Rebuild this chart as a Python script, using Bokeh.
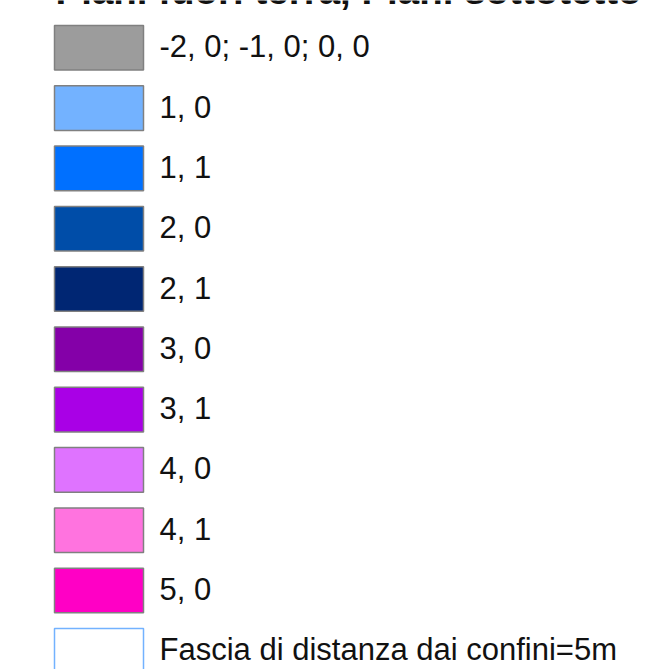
from bokeh.plotting import figure
from bokeh.models import ColumnDataSource, Range1d
from bokeh.core.properties import value
from bokeh.embed import file_html
from bokeh.resources import INLINE

title = "Piani fuori terra, Piani sottotetto"
labels = ["-2, 0; -1, 0; 0, 0", "1, 0", "1, 1", "2, 0", "2, 1",
          "3, 0", "3, 1", "4, 0", "4, 1", "5, 0",
          "Fascia di distanza dai confini=5m"]
fill_colors = ["#9c9c9c", "#73b2ff", "#0070ff", "#004da8", "#002673",
               "#8400a8", "#a900e6", "#df73ff", "#ff73df", "#ff00c5",
               "#ffffff"]
line_colors = ["#808080"] * 10 + ["#73b2ff"]
rows = list(range(len(labels)))

src = ColumnDataSource(dict(row=rows, label=labels, fill=fill_colors, line=line_colors))

# row pitch 60.3 px, first row centre at 47.3 px from top
p = figure(width=658, height=669, output_backend="svg", toolbar_location=None,
           x_range=Range1d(0, 658), y_range=Range1d((669 - 47.3) / 60.3, (0 - 47.3) / 60.3),
           min_border=0)
p.xaxis.visible = False
p.yaxis.visible = False
p.grid.visible = False
p.outline_line_color = None
p.background_fill_color = "white"
p.border_fill_color = "white"

p.rect(x=98.5, y="row", width=89, height=0.74, source=src,
       fill_color="fill", line_color="line", line_width=1.5)

p.text(x=159, y="row", text="label", source=src, y_offset=-1,
       text_font=value("Liberation Sans"), text_font_size="31px",
       text_color="#111111", text_baseline="alphabetic", text_align="left")

p.text(x=[55], y=[-0.95], text=[title],
       text_font=value("Liberation Sans"), text_font_size="38.5px",
       text_font_style="bold", text_color="#111111",
       text_baseline="alphabetic", text_align="left")

open("out.html", "w").write(file_html(p, INLINE))
